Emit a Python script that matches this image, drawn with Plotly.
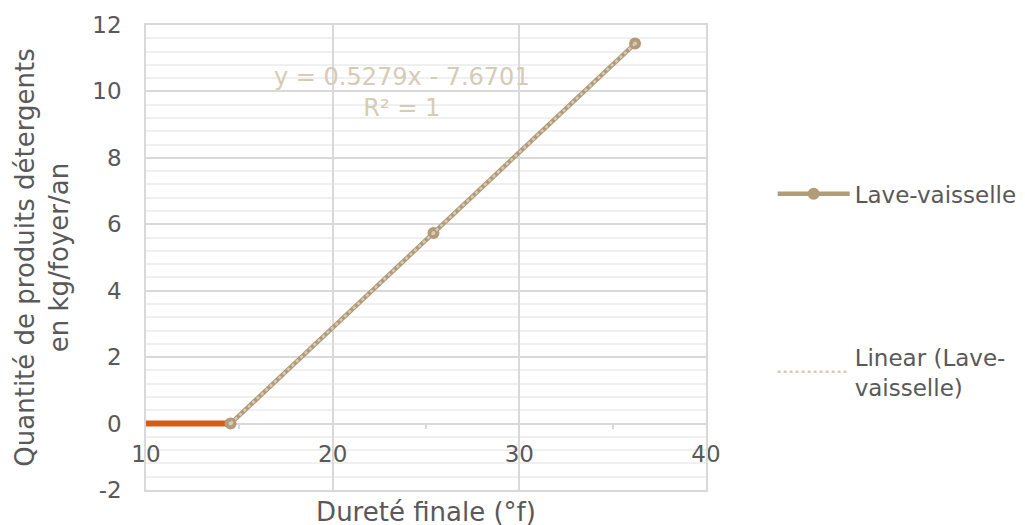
import plotly.graph_objects as go

# Data
durete = [14.53, 25.4, 36.2]
quantite = [0.0, 5.74, 11.44]
zero_x = [10, 14.53]
zero_y = [0, 0]
slope = 0.5279
intercept = -7.6701
trend_x = [14.53, 36.2]
trend_y = [slope * x + intercept for x in trend_x]

x_ticks = [10, 20, 30, 40]
y_ticks = [-2, 0, 2, 4, 6, 8, 10, 12]
y_tick_text = ["-2", "0", "2", "4", "6", "8", "10", "12"]

FONT = "Verdana, DejaVu Sans, sans-serif"
GREY = "#595959"
TAN = "#B19B79"
TREND = "#D6CBB6"
ORANGE = "#D95B14"

fig = go.Figure()

fig.add_trace(go.Scatter(x=zero_x, y=zero_y, mode="lines",
                         line=dict(color=ORANGE, width=6), showlegend=False,
                         hoverinfo="skip"))
fig.add_trace(go.Scatter(x=durete, y=quantite, mode="lines+markers",
                         name="Lave-vaisselle", legendgroup="a",
                         line=dict(color=TAN, width=4.5),
                         marker=dict(color=TAN, size=12)))
fig.add_trace(go.Scatter(x=trend_x, y=trend_y, mode="lines",
                         name="Linear (Lave-<br>vaisselle)", legendgroup="b",
                         line=dict(color=TREND, width=2.5, dash="dot")))
fig.add_trace(go.Scatter(x=durete, y=quantite, mode="markers", showlegend=False,
                         marker=dict(color=TREND, size=4), hoverinfo="skip"))

# secondary x axis carrying labels at y = 0
fig.add_trace(go.Scatter(x=[10, 40], y=[0, 0], mode="markers", xaxis="x2",
                         marker=dict(size=0.1, opacity=0), showlegend=False,
                         hoverinfo="skip"))

fig.add_annotation(x=23.74, y=9.96, xref="x", yref="y",
                   text="y = 0.5279x - 7.6701<br>R² = 1", showarrow=False,
                   font=dict(family=FONT, size=24, color=TREND))

fig.update_layout(
    width=1025, height=525,
    margin=dict(l=138, r=327, t=17, b=43, autoexpand=False),
    paper_bgcolor="white", plot_bgcolor="white",
    font=dict(family=FONT, color=GREY, size=23),
    xaxis=dict(range=[10, 40], tickvals=x_ticks, showticklabels=False,
               showgrid=True, gridcolor="#D9D9D9", gridwidth=1.5,
               showline=True, linecolor="#D9D9D9", linewidth=1.5, mirror=True,
               zeroline=False, automargin=False,
               title=dict(text="Dureté finale (°f)", font=dict(size=26), standoff=12)),
    xaxis2=dict(range=[10, 40], overlaying="x", anchor="free", position=2 / 14,
                side="bottom", tickvals=x_ticks, ticks="", showgrid=False,
                showline=True, linecolor="#D9D9D9", linewidth=1.5,
                layer="below traces", ticklabelstandoff=10, automargin=False,
                minor=dict(tickvals=[15, 25, 35], ticks="outside", ticklen=5,
                           tickcolor="#D9D9D9", tickwidth=1.5),
                tickfont=dict(size=23, color=GREY), zeroline=False),
    yaxis=dict(range=[-2, 12], tickvals=y_ticks, ticktext=y_tick_text, showgrid=True,
               gridcolor="#D9D9D9", gridwidth=1.5, automargin=False,
               minor=dict(dtick=0.4, showgrid=True, gridcolor="#F0F0F0", gridwidth=1.5),
               showline=True, linecolor="#D9D9D9", linewidth=1.5, mirror=True,
               zeroline=False, ticks="", ticklabelstandoff=18,
               tickfont=dict(size=23, color=GREY),
               title=dict(text="Quantité de produits détergents<br>en kg/foyer/an",
                          font=dict(size=26), standoff=16)),
    legend=dict(x=1.119, xanchor="left", y=0.683, yanchor="top",
                font=dict(size=23, color=GREY), tracegroupgap=130,
                itemwidth=72, bgcolor="rgba(0,0,0,0)"),
    showlegend=True,
)

fig.write_html("out.html")
